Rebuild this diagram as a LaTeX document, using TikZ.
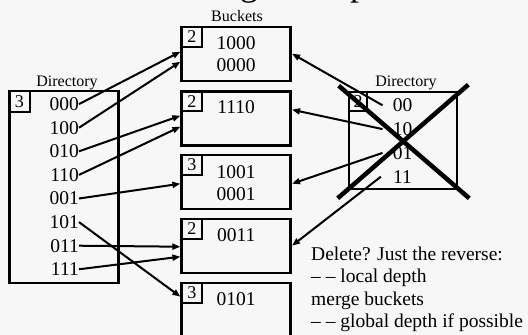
\documentclass[tikz,border=0pt]{standalone}
\usepackage{fontspec}
\setmainfont{Liberation Serif}
\usetikzlibrary{arrows.meta}
\definecolor{slidebg}{HTML}{F7F7F7}
\begin{document}
\begin{tikzpicture}[x=1pt,y=-1pt,
  frame/.style={draw, line width=2.6pt, inner sep=0pt},
  depthbox/.style={draw, line width=2.2pt, minimum width=20.5pt, minimum height=20pt,
    inner sep=0pt, anchor=north west, font=\fontsize{18}{18}\selectfont},
  digits/.style={inner sep=0pt, font=\fontsize{19.5}{20}\selectfont},
  caption/.style={inner sep=0pt, anchor=base, font=\fontsize{16}{16}\selectfont},
  note/.style={inner sep=0pt, anchor=base west, font=\fontsize{19.5}{20}\selectfont},
  headline/.style={inner sep=0pt, anchor=base west, font=\fontsize{36}{36}\selectfont},
  ptr/.style={line width=2pt, -{Triangle[length=8pt,width=6pt]}},
  cross/.style={line width=4.5pt}
]
\useasboundingbox (0,0) rectangle (528,335);
\clip (0,0) rectangle (528,335);
\fill[slidebg] (0,0) rectangle (528,335);

% heading descenders peeking in at the top edge
\node[headline] (hg) at (240,-4.5) {g};
\node[headline] (hp) at (350,-4.5) {p};

% buckets
\node[caption] (bcap) at (237,21) {Buckets};
\foreach \y [count=\i] in {54,118.5,182,246,310}
  \node[frame, minimum width=109pt, minimum height=54pt] (b\i) at (236.2,\y) {};
\foreach \i/\d in {1/2,2/2,3/3,4/2,5/3}
  \node[depthbox] (db\i) at (b\i.north west) {\d};

\node[digits, anchor=base] (k1a) at ([shift={(0,23.5)}]b1.north) {1000};
\node[digits, anchor=base] (k1b) at ([shift={(0,45.5)}]b1.north) {0000};
\node[digits, anchor=base] (k2a) at ([shift={(0,23.5)}]b2.north) {1110};
\node[digits, anchor=base] (k3a) at ([shift={(0,24.5)}]b3.north) {1001};
\node[digits, anchor=base] (k3b) at ([shift={(0,46.5)}]b3.north) {0001};
\node[digits, anchor=base] (k4a) at ([shift={(0,24)}]b4.north) {0011};
\node[digits, anchor=base] (k5a) at ([shift={(0,23.7)}]b5.north) {0101};

% new directory, global depth 3
\node[caption] (ldcap) at (67,86) {Directory};
\node[frame, minimum width=109pt, minimum height=192pt] (ld) at (63.7,187) {};
\node[depthbox, minimum width=21pt, minimum height=21pt] (ldd) at (ld.north west) {3};
\foreach \lab [count=\i from 0] in {000,100,010,110,001,101,011,111}
  \node[digits, anchor=base east] (l\lab) at (79,{110.5+23.6*\i}) {\lab};

% old directory, global depth 2
\node[caption] (rdcap) at (406,86.5) {Directory};
\node[frame, minimum width=108pt, minimum height=97pt] (rd) at (403,140.5) {};
\node[depthbox, minimum width=18.5pt, minimum height=19pt] (rdd) at (rd.north west) {2};
\foreach \lab [count=\i from 0] in {00,10,01,11}
  \node[digits, anchor=base] (r\lab) at (402.5,{111.7+23.8*\i}) {\lab};

% pointers from the new directory
\draw[ptr] (l000.east) -- ([shift={(0,26)}]b1.north west);
\draw[ptr] (l100.east) -- ([shift={(0,36)}]b1.north west);
\draw[ptr] (l010.east) -- ([shift={(0,25.5)}]b2.north west);
\draw[ptr] (l110.east) -- ([shift={(0,36.5)}]b2.north west);
\draw[ptr] (l001.east) -- ([shift={(0,30)}]b3.north west);
\draw[ptr] (l101.east) -- ([shift={(0,15)}]b5.north west);
\draw[ptr] (l011.east) -- ([shift={(0,29)}]b4.north west);
\draw[ptr] (l111.east) -- ([shift={(0,39)}]b4.north west);

% pointers from the old directory
\draw[ptr] ([xshift=-10pt]r00.west) -- ([shift={(0,28)}]b1.north east);
\draw[ptr] ([xshift=-10pt]r10.west) -- ([shift={(0,19.5)}]b2.north east);
\draw[ptr] ([xshift=-10pt]r01.west) -- ([shift={(0,30)}]b3.north east);
\draw[ptr] ([xshift=-12pt]r11.west) -- ([shift={(0,28)}]b4.north east);

% old directory struck out
\draw[cross] ([shift={(-9,-5)}]rd.north west) -- ([shift={(11,8)}]rd.south east);
\draw[cross] ([shift={(10,-6)}]rd.north east) -- ([shift={(-10,8)}]rd.south west);

% remarks on deletion
\node[note] (n1) at (311,260) {Delete? Just the reverse:};
\node[note] (n2) at (311,282.5) {– – local depth};
\node[note] (n3) at (311,305) {merge buckets};
\node[note] (n4) at (311,327.5) {– – global depth if possible};
\end{tikzpicture}
\end{document}
